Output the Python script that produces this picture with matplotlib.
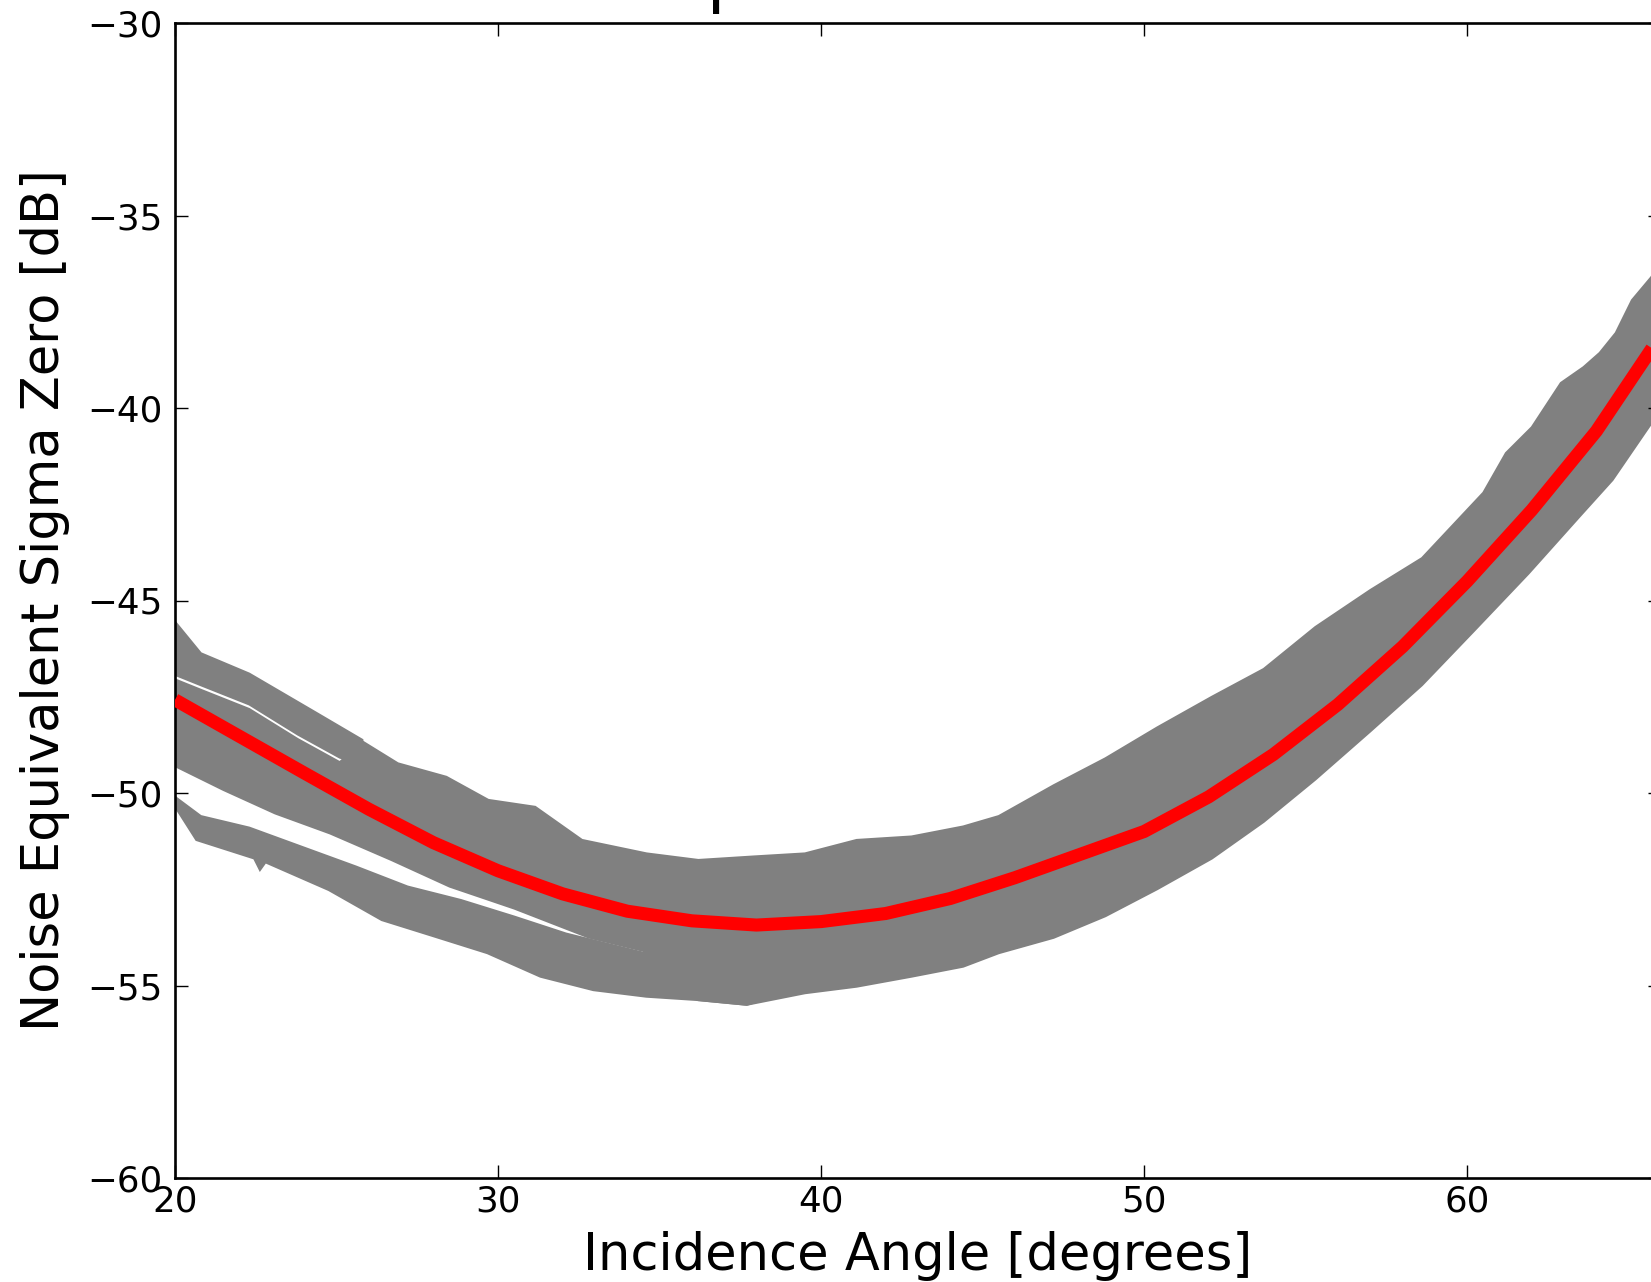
import matplotlib
matplotlib.use("Agg")
import matplotlib.pyplot as plt
import numpy as np

# ---- data ----
# red fit curve
fit_angle = [20, 22, 24, 26, 28, 30, 32, 34, 36, 38, 40, 42, 44, 46, 48, 50,
             52, 54, 56, 58, 60, 62, 64, 66]
fit_nesz = [-47.58, -48.53, -49.48, -50.42, -51.29, -52.02, -52.62, -53.07,
            -53.32, -53.43, -53.34, -53.13, -52.74, -52.2, -51.6, -51.0,
            -50.1, -49.0, -47.7, -46.2, -44.5, -42.65, -40.6, -38.1]

# uppermost thin track of measurements at small angles
track_up_angle = [20.0, 20.8, 22.3, 24.4, 25.8]
track_up_nesz = [-45.55, -46.37, -46.9, -47.93, -48.62]
track_lo_angle = [20.0, 20.8, 22.3, 23.8, 25.1, 25.8]
track_lo_nesz = [-46.93, -47.2, -47.7, -48.48, -49.08, -49.25]

# main cloud of measurements: upper envelope
band_up_angle = [20.0, 20.8, 22.3, 23.8, 25.1, 25.5, 25.8, 26.9, 28.4, 29.7,
                 31.15, 32.6, 34.6, 36.2, 37.9, 39.5, 41.1, 42.8, 44.4, 45.5,
                 47.2, 48.8, 50.4, 52.1, 53.7, 55.3, 57.0, 58.6, 60.5, 61.2,
                 62.0, 62.9, 63.6, 64.1, 64.6, 65.1, 65.7, 66.0]
band_up_nesz = [-47.05, -47.32, -47.82, -48.6, -49.2, -48.9, -48.66, -49.23,
                -49.58, -50.18, -50.36, -51.22, -51.57, -51.74, -51.65, -51.57,
                -51.22, -51.13, -50.87, -50.6, -49.8, -49.1, -48.3, -47.5,
                -46.78, -45.69, -44.73, -43.9, -42.2, -41.17, -40.5, -39.35,
                -38.94, -38.57, -38.05, -37.2, -36.6, -36.2]
# main cloud: lower envelope
band_lo_angle = [20.0, 21.5, 23.1, 24.8, 26.7, 28.5, 30.5, 32.8, 34.5, 36.2,
                 37.7, 39.5, 41.1, 42.8, 44.4, 45.5, 47.2, 48.8, 50.4, 52.1,
                 53.7, 55.3, 57.0, 58.6, 60.2, 61.9, 63.5, 64.5, 65.7, 66.0]
band_lo_nesz = [-49.3, -49.92, -50.53, -51.05, -51.74, -52.43, -53.0, -53.75,
                -54.1, -55.38, -55.5, -55.2, -55.03, -54.77, -54.51, -54.16,
                -53.76, -53.2, -52.5, -51.7, -50.75, -49.65, -48.4, -47.2,
                -45.8, -44.3, -42.8, -41.87, -40.4, -40.0]

# separate lower streak at small angles
streak_up_angle = [20.0, 20.8, 22.3, 23.9, 25.6, 27.2, 28.85, 30.5, 32.1, 33.3,
                   34.5, 36.2, 37.9]
streak_up_nesz = [-50.1, -50.6, -50.9, -51.39, -51.91, -52.43, -52.78, -53.21,
                  -53.65, -53.9, -54.15, -54.4, -54.5]
streak_lo_angle = [20.0, 20.66, 22.45, 22.63, 22.8, 24.76, 26.4, 28.04, 29.67,
                   31.31, 32.95, 34.59, 36.23, 37.7, 37.9]
streak_lo_nesz = [-50.35, -51.22, -51.7, -52.0, -51.8, -52.52, -53.3, -53.73,
                  -54.16, -54.77, -55.12, -55.29, -55.38, -55.5, -55.45]

xticks = [20, 30, 40, 50, 60]
yticks = [-60, -55, -50, -45, -40, -35, -30]

# ---- figure ----
W, H = 1651, 1282
fig = plt.figure(figsize=(W / 100, H / 100), dpi=100)
x0_px, x1_px = 175, 1661
ytop_px, ybot_px = 23, 1178
ax = fig.add_axes([x0_px / W, (H - ybot_px) / H, (x1_px - x0_px) / W,
                   (ybot_px - ytop_px) / H])

gray = "#808080"


def envelope(au, vu, al, vl):
    xs = np.concatenate([np.asarray(au, float), np.asarray(al, float)[::-1]])
    ys = np.concatenate([np.asarray(vu, float), np.asarray(vl, float)[::-1]])
    return xs, ys


for au, vu, al, vl in [
    (band_up_angle, band_up_nesz, band_lo_angle, band_lo_nesz),
    (track_up_angle, track_up_nesz, track_lo_angle, track_lo_nesz),
    (streak_up_angle, streak_up_nesz, streak_lo_angle, streak_lo_nesz),
]:
    xs, ys = envelope(au, vu, al, vl)
    ax.fill(xs, ys, color=gray, lw=1.5, ec=gray, zorder=1)

ax.plot(fit_angle, fit_nesz, color="#ff0000", lw=9.4, solid_capstyle="butt",
        solid_joinstyle="round", zorder=3)

ax.set_xlim(20, 66)
ax.set_ylim(-60, -30)
ax.set_xticks(xticks)
ax.set_yticks(yticks)
ax.set_xticklabels([str(v) for v in xticks])
ax.set_yticklabels(["\u2212%d" % abs(v) for v in yticks])

for s in ax.spines.values():
    s.set_linewidth(1.9)
ax.tick_params(direction="in", length=9.5, width=1.0, top=True, right=True,
               labelsize=25.7, colors="black")
ax.tick_params(axis="x", pad=5)
ax.tick_params(axis="y", pad=9)

ax.set_xlabel("Incidence Angle [degrees]", fontsize=36.7, labelpad=9)
ax.set_ylabel("Noise Equivalent Sigma Zero [dB]", fontsize=36.7, labelpad=12)

# remnant of the (cropped) title above the plot
fig.text(716 / W, 1 - 14 / H, "|", fontsize=40, fontweight="bold",
         ha="center", va="bottom", color="black")

fig.savefig("out.png", dpi=100)
